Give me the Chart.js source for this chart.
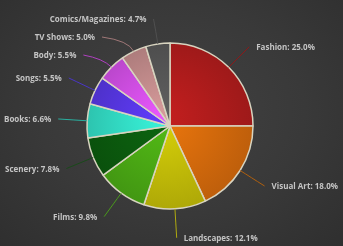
<!DOCTYPE html>
<html lang="en">
<head>
  <meta charset="UTF-8" />
  <title>Interests - share by category</title>
  <script src="https://cdn.jsdelivr.net/npm/chart.js"></script>
  <style>
    html, body {
      margin: 0;
      padding: 0;
    }
    body {
      width: 343px;
      height: 246px;
      overflow: hidden;
      background: radial-gradient(ellipse at 50% 45%, #424242 0%, #393939 55%, #2f2f2f 100%);
    }
    .chart-box {
      position: relative;
      width: 343px;
      height: 246px;
    }
  </style>
</head>
<body>
  <div class="chart-box">
    <canvas id="pieChart"></canvas>
  </div>

  <script>
    // data (percent)
    const categories = ["Fashion", "Visual Art", "Landscapes", "Films", "Scenery",
                        "Books", "Songs", "Body", "TV Shows", "Comics/Magazines"];
    const shares = [25.0, 18.0, 12.1, 9.8, 7.8, 6.6, 5.5, 5.5, 5.0, 4.7];
    const sliceColors = ["#b01c1c", "#d46a0c", "#c2bc08", "#4aa814", "#0b5a0e",
                         "#32d9c2", "#5636e0", "#cf4ee2", "#c08a8a", "#565656"];
    const lineColors = ["#8e1a1a", "#b0600e", "#b0aa10", "#4a9a1c", "#1a4a1a",
                        "#2ab0a0", "#4a36c8", "#b040c0", "#a07878", "#505050"];

    function shade(hex, amt) {
      const n = parseInt(hex.slice(1), 16);
      const ch = s => Math.max(0, Math.min(255, Math.round(((n >> s) & 255) * (1 + amt))));
      return "rgb(" + ch(16) + "," + ch(8) + "," + ch(0) + ")";
    }

    // lighter toward the middle of the pie, darker at the rim
    function sliceFill(context) {
      const area = context.chart.chartArea;
      if (!area) return sliceColors[context.dataIndex];
      const c = context.chart.ctx;
      const cx = (area.left + area.right) / 2;
      const cy = (area.top + area.bottom) / 2;
      const g = c.createRadialGradient(cx - 10, cy - 10, 0, cx, cy, 90);
      const base = sliceColors[context.dataIndex];
      g.addColorStop(0, shade(base, 0.12));
      g.addColorStop(1, shade(base, -0.12));
      return g;
    }

    const labelPlugin = {
      id: "outerLabels",
      afterDatasetsDraw(chart) {
        const c = chart.ctx;
        const arcs = chart.getDatasetMeta(0).data;
        const gap = 29, minGap = 18, topLimit = 19;
        const items = arcs.map((arc, i) => {
          const mid = (arc.startAngle + arc.endAngle) / 2;
          const R = arc.outerRadius + gap;
          return {
            i, mid, R, cx: arc.x, cy: arc.y, r: arc.outerRadius,
            side: Math.cos(mid) >= 0 ? 1 : -1,
            nx: arc.x + Math.cos(mid) * R,
            ny: arc.y + Math.sin(mid) * R
          };
        });

        // keep labels on each side from piling onto each other
        [1, -1].forEach(side => {
          const list = items.filter(it => it.side === side).sort((a, b) => a.ny - b.ny);
          let last = -Infinity;
          list.forEach(it => {
            it.y = Math.max(it.ny, last + minGap, topLimit);
            last = it.y;
          });
        });

        c.save();
        c.font = "bold 8px 'Open Sans', sans-serif";
        c.textBaseline = "middle";
        items.forEach(it => {
          let ex = it.nx;
          if (Math.abs(it.y - it.ny) > 5) {
            const dy = it.y - it.cy;
            ex = it.cx + it.side * Math.sqrt(Math.max(it.R * it.R - dy * dy, 0));
          }
          const ey = it.y;
          const sx = it.cx + Math.cos(it.mid) * it.r;
          const sy = it.cy + Math.sin(it.mid) * it.r;
          const kx = it.cx + Math.cos(it.mid) * (it.r + 12);
          const ky = it.cy + Math.sin(it.mid) * (it.r + 12);

          c.strokeStyle = lineColors[it.i];
          c.lineWidth = 1;
          c.beginPath();
          c.moveTo(sx, sy);
          c.quadraticCurveTo(kx, ky, ex, ey);
          c.stroke();

          c.fillStyle = "#c4c4c4";
          c.textAlign = it.side > 0 ? "left" : "right";
          c.fillText(categories[it.i] + ": " + shares[it.i].toFixed(1) + "%",
                     ex + it.side * 7, ey + 1);
        });
        c.restore();
      }
    };

    new Chart(document.getElementById("pieChart"), {
      type: "pie",
      data: {
        labels: categories,
        datasets: [{
          data: shares,
          backgroundColor: sliceFill,
          borderColor: "#d8d4c0",
          borderWidth: 1.5
        }]
      },
      options: {
        responsive: true,
        maintainAspectRatio: false,
        animation: false,
        radius: 83,
        layout: {
          padding: { left: 86, right: 89, top: 42, bottom: 36 }
        },
        plugins: {
          legend: { display: false },
          tooltip: { enabled: false }
        }
      },
      plugins: [labelPlugin]
    });
  </script>
</body>
</html>
